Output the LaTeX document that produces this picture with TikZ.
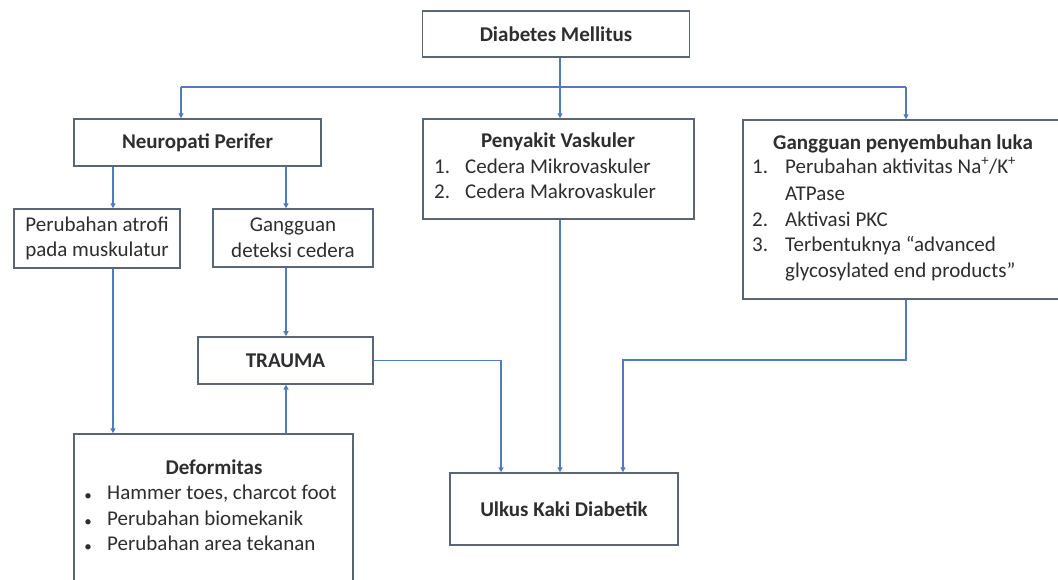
\documentclass[tikz,border=0pt]{standalone}
\usepackage{fontspec}
\setmainfont{Carlito}
\usetikzlibrary{arrows.meta}
\definecolor{boxc}{HTML}{5A6676}
\definecolor{arrc}{HTML}{4F7CC0}
\definecolor{txtc}{HTML}{2E2E2E}
\begin{document}
\begin{tikzpicture}[x=1pt,y=-1pt,
  font=\fontsize{21}{25.5}\selectfont, text=txtc,
  box/.style={draw=boxc, line width=1.4pt, fill=white, rectangle, inner sep=0pt, align=center},
  lbl/.style={inner sep=0pt, anchor=mid west},
  bul/.style={inner sep=0pt, anchor=center, font=\fontsize{15}{18}\selectfont},
  ttl/.style={inner sep=0pt, anchor=mid, font=\fontsize{21}{25.5}\selectfont\bfseries},
  link/.style={draw=arrc, line width=1.3pt},
  conn/.style={draw=arrc, line width=1.3pt, -{Triangle[length=5pt,width=5pt]}}]
\useasboundingbox (0,0) rectangle (1058,580);
\clip (0,0) rectangle (1058,580);
\fill[white] (0,0) rectangle (1058,580);

% boxes
\node[box, minimum width=267, minimum height=46] (DM) at (556,34) {\bfseries Diabetes Mellitus};
\node[box, minimum width=247, minimum height=47] (NP) at (197.5,142.5) {\bfseries Neuropati Perifer};
\node[box, minimum width=271, minimum height=100] (PV) at (558.5,169) {};
\node[box, minimum width=322, minimum height=179] (GP) at (904,209.5) {};
\node[box, minimum width=166, minimum height=59] (PA) at (97,238.5) {Perubahan atrofi\\pada muskulatur};
\node[box, minimum width=160, minimum height=58] (GD) at (293,238) {Gangguan\\deteksi cedera};
\node[box, minimum width=175, minimum height=47] (TR) at (285.5,360.4) {\bfseries TRAUMA};
\node[box, minimum width=279, minimum height=160] (DF) at (213.5,514) {};
\node[box, minimum width=228, minimum height=72] (UK) at (564,509) {\bfseries Ulkus Kaki Diabetik};

% texts inside list boxes
\node[ttl] (pvt) at (558,145) {Penyakit Vaskuler};
\node[lbl] (pv1n) at (434,171) {1.};
\node[lbl] (pv1) at (465,171) {Cedera Mikrovaskuler};
\node[lbl] (pv2n) at (434,196) {2.};
\node[lbl] (pv2) at (465,196) {Cedera Makrovaskuler};

\node[ttl] (gpt) at (903,147) {Gangguan penyembuhan luka};
\node[lbl] (gp1n) at (752,171) {1.};
\node[lbl] (gp1) at (785,171) {Perubahan aktivitas Na\textsuperscript{+}/K\textsuperscript{+}};
\node[lbl] (gp1b) at (785,198) {ATPase};
\node[lbl] (gp2n) at (752,224) {2.};
\node[lbl] (gp2) at (785,224) {Aktivasi PKC};
\node[lbl] (gp3n) at (752,249) {3.};
\node[lbl] (gp3) at (785,249) {Terbentuknya “advanced};
\node[lbl] (gp3b) at (785,275) {glycosylated end products”};

\node[ttl] (dft) at (214,472) {Deformitas};
\node[bul] (df1n) at (88,497) {•};
\node[lbl] (df1) at (107,497) {Hammer toes, charcot foot};
\node[bul] (df2n) at (88,523) {•};
\node[lbl] (df2) at (107,523) {Perubahan biomekanik};
\node[bul] (df3n) at (88,548) {•};
\node[lbl] (df3) at (107,548) {Perubahan area tekanan};

% junction coordinates
\coordinate (j0) at (560,87);
\coordinate (jl) at (181,87);
\coordinate (jr) at (906,87);
\coordinate (xa) at (113,0);
\coordinate (xd) at (286,0);
\coordinate (xb) at (501,0);
\coordinate (g1) at (906,360);
\coordinate (g2) at (623,360);

% connectors
\draw[link] (DM.south -| j0) -- (j0);
\draw[link] (jl) -- (jr);
\draw[conn] (jl) -- (jl |- NP.north);
\draw[conn] (j0) -- (j0 |- PV.north);
\draw[conn] (jr) -- (jr |- GP.north);
\draw[conn] (NP.south -| xa) -- (PA.north -| xa);
\draw[conn] (NP.south -| xd) -- (GD.north -| xd);
\draw[conn] (PA.south -| xa) -- (DF.north -| xa);
\draw[conn] (GD.south -| xd) -- (TR.north -| xd);
\draw[conn] (DF.north -| xd) -- (TR.south -| xd);
\draw[conn] (TR.east) -| (UK.north -| xb);
\draw[conn] (PV.south -| j0) -- (UK.north -| j0);
\draw[conn] (GP.south -| g1) -- (g1) -- (g2) -- (UK.north -| g2);
\end{tikzpicture}
\end{document}
